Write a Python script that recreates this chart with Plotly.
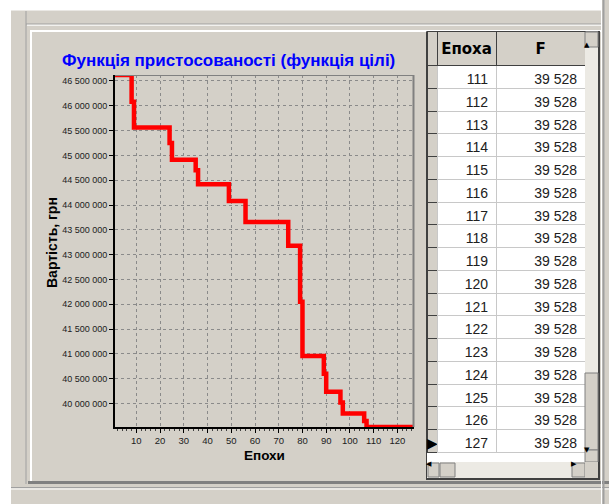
import plotly.graph_objects as go

W, H = 609, 504

# ---- data ----
epochs = [1, 8, 9, 24, 25, 35, 36, 49, 56, 74, 79, 80, 89, 90, 96, 97, 106, 107, 127]
cost = [46.62e6, 46.08e6, 45.56e6, 45.25e6, 44.91e6, 44.70e6, 44.42e6, 44.08e6,
        43.66e6, 43.18e6, 42.05e6, 40.96e6, 40.60e6, 40.24e6, 40.02e6, 39.80e6,
        39.65e6, 39.528e6, 39.528e6]

table_epochs = [111, 112, 113, 114, 115, 116, 117, 118, 119, 120,
                121, 122, 123, 124, 125, 126, 127]
table_F = ["39 528", "39 528", "39 528", "39 528", "39 528", "39 528",
           "39 528", "39 528", "39 528", "39 528", "39 528", "39 528",
           "39 528", "39 528", "39 528", "39 528", "39 528"]
table_marker = ["", "", "", "", "", "", "", "", "", "", "", "", "", "", "", "", "▶"]

title_text = "Функція пристосованості (функція цілі)"
y_title = "Вартість, грн"
x_title = "Епохи"

FONT = "Liberation Sans, Arial, sans-serif"
GRAY = "#d4d0c8"


def px(x):
    return x / W


def py(y):
    return 1 - y / H


def rect(x0, y0, x1, y1, fill, line=None, lw=0, layer="below"):
    return dict(type="rect", xref="paper", yref="paper",
                x0=px(x0), x1=px(x1), y0=py(y0), y1=py(y1),
                fillcolor=fill, line=dict(width=lw, color=line or fill),
                layer=layer)


def hline(x0, x1, y, color, w=1, layer="below"):
    return dict(type="line", xref="paper", yref="paper",
                x0=px(x0), x1=px(x1), y0=py(y), y1=py(y),
                line=dict(color=color, width=w), layer=layer)


def vline(x, y0, y1, color, w=1, layer="below"):
    return dict(type="line", xref="paper", yref="paper",
                x0=px(x), x1=px(x), y0=py(y0), y1=py(y1),
                line=dict(color=color, width=w), layer=layer)


fig = go.Figure()

fig.add_trace(go.Scatter(
    x=epochs, y=cost, mode="lines",
    line=dict(color="#ff0000", width=4.5, shape="hv"),
    hoverinfo="skip", showlegend=False,
))

fig.add_trace(go.Table(
    domain=dict(x=[px(427), px(585)], y=[py(462), py(31.5)]),
    columnwidth=[10, 59, 89],
    header=dict(
        values=["", "<b>Епоха</b>", "<b>F</b>"],
        fill_color=GRAY, line=dict(color="#404040", width=1),
        font=dict(family="DejaVu Sans, sans-serif", size=15, color="black"),
        align="center", height=25,
    ),
    cells=dict(
        values=[table_marker, table_epochs, table_F],
        fill_color=[[GRAY] * len(table_epochs), "white", "white"],
        line=dict(color=["#404040", "#c8c8c8", "#c8c8c8"], width=1),
        font=dict(family=FONT, size=14, color=["black", "#202020", "#202020"]),
        align=["center", "right", "right"], height=22.75,
    ),
))

shapes = [
    # outer white margins
    rect(0, 0, 11, 504, "white"),
    rect(0, 0, 602, 10.5, "white"),
    # window frame lines
    vline(26, 11, 484, "#a0a0a0"),
    hline(26, 602, 24, "#a0a0a0"),
    hline(27, 602, 25.2, "white"),
    # panel highlight
    vline(31, 30, 482, "white", 2),
    hline(30, 602, 31, "white", 2),
    # bottom edges
    hline(28, 609, 482.5, "#808080", 3),
    hline(11, 609, 487.5, "#a0a0a0"),
    hline(11, 609, 489, "white"),
    # right frame
    vline(601.5, 0, 504, "white"),
    vline(603.5, 0, 504, "#a0a0a0", 2),
    # table background and frame
    rect(427, 32, 585, 462, "white"),
    vline(426.5, 31, 480, "#404040"),
    hline(426, 600, 31.5, "#808080"),
    hline(426, 600, 479, "#404040", 2),
    vline(599, 31, 480, "#404040", 2),
    # vertical scrollbar
    rect(585, 47, 598, 450, "#eceae4", layer="above"),
    rect(585, 32, 598, 47, GRAY, "#808080", 1, "above"),
    rect(585, 373, 598, 450, GRAY, "#808080", 1, "above"),
    rect(585, 450, 598, 462, GRAY, "#808080", 1, "above"),
    # horizontal scrollbar
    rect(427, 462, 585, 478, "#eceae4", layer="above"),
    rect(428, 463, 439, 477, GRAY, "#808080", 1, "above"),
    rect(440, 463, 455, 477, GRAY, "#808080", 1, "above"),
    rect(572, 463, 585, 477, GRAY, "#808080", 1, "above"),
    rect(585, 462, 598, 478, GRAY, layer="above"),
    # plot area top / right border
    hline(115, 414, 75.5, "#808080", 1, "above"),
    vline(413.5, 75, 427, "#808080", 2, "above"),
]

annotations = [
    dict(text="<b>" + title_text + "</b>", x=px(228.5), y=py(60),
         xref="paper", yref="paper", xanchor="center", yanchor="middle",
         showarrow=False, font=dict(family=FONT, size=17, color="#0000ff")),
    dict(text="<b>" + y_title + "</b>", x=px(52), y=py(243),
         xref="paper", yref="paper", xanchor="center", yanchor="middle",
         textangle=-90, showarrow=False,
         font=dict(family=FONT, size=14, color="black")),
    dict(text="<b>" + x_title + "</b>", x=px(264), y=py(455),
         xref="paper", yref="paper", xanchor="center", yanchor="middle",
         showarrow=False, font=dict(family=FONT, size=13.5, color="black")),
    # scrollbar arrows
    dict(text="▲", x=px(591.5), y=py(39.5), xref="paper", yref="paper",
         showarrow=False, font=dict(family="DejaVu Sans", size=7, color="black")),
    dict(text="▼", x=px(591.5), y=py(456), xref="paper", yref="paper",
         showarrow=False, font=dict(family="DejaVu Sans", size=7, color="black")),
    dict(text="◀", x=px(433.5), y=py(470), xref="paper", yref="paper",
         showarrow=False, font=dict(family="DejaVu Sans", size=7, color="black")),
    dict(text="▶", x=px(578.5), y=py(470), xref="paper", yref="paper",
         showarrow=False, font=dict(family="DejaVu Sans", size=7, color="black")),
]

fig.update_layout(
    width=W, height=H,
    margin=dict(l=0, r=0, t=0, b=0, pad=0),
    paper_bgcolor=GRAY, plot_bgcolor=GRAY,
    separators=", ",
    showlegend=False,
    shapes=shapes,
    annotations=annotations,
    xaxis=dict(
        domain=[px(115), px(414)], range=[1, 127],
        tick0=0, dtick=10, ticks="outside", ticklen=4, tickcolor="black",
        minor=dict(dtick=2, ticks="outside", ticklen=2, tickcolor="#404040", showgrid=False),
        showline=True, linecolor="black", linewidth=2,
        showgrid=True, gridcolor="#8a8a8a", griddash="3px,3px", gridwidth=1,
        zeroline=False,
        tickfont=dict(family=FONT, size=9.5, color="#202020"),
        fixedrange=True,
    ),
    yaxis=dict(
        domain=[py(427), py(75)], range=[39.528e6, 46.62e6],
        tick0=0, dtick=500000, tickformat=",d",
        ticks="outside", ticklen=4, tickcolor="black",
        showline=True, linecolor="black", linewidth=2,
        showgrid=True, gridcolor="#8a8a8a", griddash="3px,3px", gridwidth=1,
        zeroline=False,
        tickfont=dict(family=FONT, size=9, color="#202020"),
        fixedrange=True,
    ),
)

fig.write_html(
    "out.html",
    config={"displayModeBar": False},
    post_script="document.body.style.margin='0';document.body.style.overflow='hidden';",
)
